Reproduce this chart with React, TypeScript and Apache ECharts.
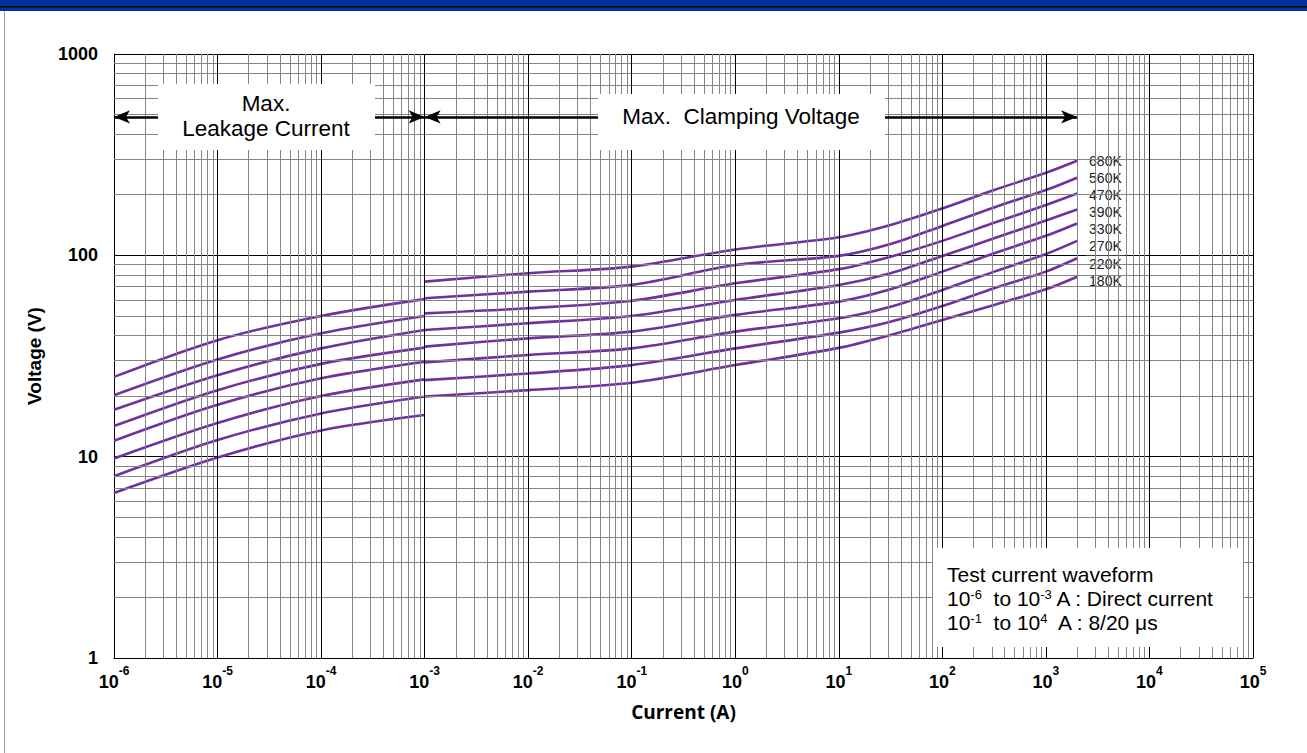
import React, { useEffect, useRef } from "react";
import * as echarts from "echarts";

// ---------- data ----------
const seriesNames = ["680K", "560K", "470K", "390K", "330K", "270K", "220K", "180K"];

// Max. leakage current region (DC), current in A, voltage in V
const leakageCurrent = [1e-6, 1e-5, 1e-4, 1e-3];
const leak680K = [24.9, 37.9, 50.0, 60.6];
const leak560K = [20.2, 30.4, 41.0, 50.0];
const leak470K = [17.1, 25.4, 34.5, 42.6];
const leak390K = [14.2, 21.4, 28.9, 34.8];
const leak330K = [12.0, 18.1, 24.5, 29.6];
const leak270K = [9.8, 14.7, 20.0, 24.2];
const leak220K = [8.0, 12.1, 16.4, 19.9];
const leak180K = [6.6, 9.9, 13.5, 16.1];
const leakageValues = [leak680K, leak560K, leak470K, leak390K, leak330K, leak270K, leak220K, leak180K];

// Max. clamping voltage region (8/20 µs)
const clampCurrent = [1e-3, 1e-2, 1e-1, 1, 10, 31.6, 100, 316, 1000, 2000];
const clamp680K = [74.0, 81.5, 87.9, 107, 123, 141.5, 171, 211, 257, 295];
const clamp560K = [61.2, 66.0, 71.3, 89.5, 99.4, 113.8, 140, 173, 211, 243];
const clamp470K = [51.5, 54.6, 59.5, 72.6, 85.4, 98.5, 118, 145, 178, 203];
const clamp390K = [42.6, 46.0, 50.0, 60.0, 71.3, 81.5, 99.2, 121.5, 149, 169];
const clamp330K = [35.2, 38.7, 41.8, 50.6, 58.9, 67.8, 83.0, 102.4, 125, 144];
const clamp270K = [29.4, 32.0, 34.5, 41.8, 48.7, 55.6, 67.3, 83.0, 101.5, 118];
const clamp220K = [24.0, 25.9, 28.5, 34.5, 41.3, 46.8, 56.0, 68.6, 83.0, 96.7];
const clamp180K = [19.9, 21.4, 23.3, 28.5, 34.7, 40.2, 47.7, 56.7, 67.8, 78.3];
const clampValues = [clamp680K, clamp560K, clamp470K, clamp390K, clamp330K, clamp270K, clamp220K, clamp180K];

// axes
const xMin = 1e-6;
const xMax = 1e5;
const yMin = 1;
const yMax = 1000;
const xTickValues = [1e-6, 1e-5, 1e-4, 1e-3, 1e-2, 1e-1, 1, 10, 100, 1000, 10000, 100000];
const xDecades = [1e-6, 1e-5, 1e-4, 1e-3, 1e-2, 1e-1, 1, 10, 100, 1000, 10000];
const yDecades = [1, 10, 100];
const minorMultipliers = [2, 3, 4, 5, 6, 7, 8, 9];

// annotation arrows (current range boundaries and arrow level)
const leakageRange = [1e-6, 1e-3];
const clampRange = [1e-3, 2000];
const arrowVoltage = 487;

// ---------- styles ----------
const curveColor = "#7030a0";
const endLabelShift = [0, 0, 2, 3, 6, 5, 6, 4];
const FONT = "'Liberation Sans', Arial, sans-serif";

export default function App() {
  const ref = useRef<HTMLDivElement>(null);

  useEffect(() => {
    if (!ref.current) return;
    const chart = echarts.init(ref.current, null, { renderer: "svg" });

    const minorX: number[] = [];
    xDecades.forEach((d) => minorMultipliers.forEach((m) => minorX.push(m * d)));
    const minorY: number[] = [];
    yDecades.forEach((d) => minorMultipliers.forEach((m) => minorY.push(m * d)));

    const sup = (exp: number) => `{b|10}{s|${exp}}`;

    const series: any[] = [];
    // minor grid lines
    series.push({
      type: "line",
      name: "minorGrid",
      data: [],
      silent: true,
      z: 1,
      markLine: {
        silent: true,
        animation: false,
        precision: 12,
        symbol: ["none", "none"],
        label: { show: false },
        emphasis: { disabled: true },
        lineStyle: { color: "#858585", width: 1, type: "solid" },
        data: [
          ...minorX.map((v) => [{ coord: [v, yMin] }, { coord: [v, yMax] }]),
          ...minorY.map((v) => [{ coord: [xMin, v] }, { coord: [xMax, v] }]),
        ],
      },
    });
    // major vertical (decade) grid lines
    series.push({
      type: "line",
      name: "majorGridX",
      data: [],
      silent: true,
      z: 2,
      markLine: {
        silent: true,
        animation: false,
        precision: 12,
        symbol: ["none", "none"],
        label: { show: false },
        emphasis: { disabled: true },
        lineStyle: { color: "#000", width: 1, type: "solid" },
        data: xTickValues.slice(1).map((v) => [{ coord: [v, yMin] }, { coord: [v, yMax] }]),
      },
    });
    // arrows
    series.push({
      type: "line",
      name: "arrows",
      data: [],
      silent: true,
      z: 4,
      markLine: {
        silent: true,
        animation: false,
        precision: 12,
        symbol: ["arrow", "arrow"],
        symbolSize: [10, 16],
        label: { show: false },
        emphasis: { disabled: true },
        lineStyle: { color: "#000", width: 2.5, type: "solid" },
        data: [
          [
            { coord: [leakageRange[0], arrowVoltage] },
            { coord: [leakageRange[1], arrowVoltage] },
          ],
          [
            { coord: [clampRange[0], arrowVoltage] },
            { coord: [clampRange[1], arrowVoltage] },
          ],
        ],
      },
    });

    seriesNames.forEach((name, i) => {
      series.push({
        type: "line",
        name: name + " leakage",
        data: leakageCurrent.map((c, j) => [c, leakageValues[i][j]]),
        showSymbol: false,
        symbol: "none",
        smooth: 0.3,
        z: 3,
        lineStyle: { color: curveColor, width: 2.6 },
      });
      series.push({
        type: "line",
        name,
        data: clampCurrent.map((c, j) => [c, clampValues[i][j]]),
        showSymbol: false,
        symbol: "none",
        smooth: 0.3,
        z: 3,
        lineStyle: { color: curveColor, width: 2.6 },
        endLabel: {
          show: true,
          formatter: "{a}",
          distance: 9,
          offset: [0, endLabelShift[i]],
          color: "#222",
          fontSize: 14,
          fontFamily: FONT,
          backgroundColor: "#fff",
          padding: [1, 3],
          lineHeight: 15,
        },
      });
    });

    const option: any = {
      animation: false,
      backgroundColor: "#fff",
      grid: { left: 114, top: 54, right: 54, bottom: 95, containLabel: false },
      xAxis: {
        type: "log",
        logBase: 10,
        min: xMin,
        max: xMax,
        name: "Current (A)",
        nameLocation: "middle",
        nameGap: 44,
        nameTextStyle: { fontSize: 19, fontWeight: "bold", fontFamily: "'Open Sans', sans-serif", color: "#000" },
        axisLine: { show: true, lineStyle: { color: "#000", width: 1 } },
        axisTick: { show: false, customValues: xTickValues },
        splitLine: { show: false },
        axisLabel: {
          margin: 7,
          interval: 0,
          hideOverlap: false,
          customValues: xTickValues,
          formatter: (v: number) => sup(Math.round(Math.log10(v))),
          rich: {
            b: { fontSize: 18, fontWeight: "bold", fontFamily: FONT, color: "#000", padding: [8, 0, 0, 0] },
            s: { fontSize: 12, fontWeight: "bold", fontFamily: FONT, color: "#000", verticalAlign: "top" },
          },
        },
      },
      yAxis: {
        type: "log",
        logBase: 10,
        min: yMin,
        max: yMax,
        splitNumber: 3,
        name: "Voltage (V)",
        nameLocation: "middle",
        nameGap: 70,
        nameRotate: 90,
        nameTextStyle: { fontSize: 19, fontWeight: "bold", fontFamily: FONT, color: "#000" },
        axisLine: { show: true, lineStyle: { color: "#000", width: 1 } },
        axisTick: { show: false },
        splitLine: { show: true, interval: 0, lineStyle: { color: "#000", width: 1 } },
        axisLabel: {
          margin: 16,
          interval: 0,
          fontSize: 18,
          fontWeight: "bold",
          fontFamily: FONT,
          color: "#000",
          formatter: (v: number) => String(Math.round(v)),
        },
      },
      series,
      graphic: [
        // header band
        { type: "rect", z: 100, shape: { x: 0, y: 0, width: 1307, height: 11 }, style: { fill: "#003399" } },
        { type: "rect", z: 101, shape: { x: 0, y: 6, width: 1307, height: 1.5 }, style: { fill: "#000" } },
        { type: "rect", z: 100, shape: { x: 4, y: 11, width: 1, height: 742 }, style: { fill: "#a0a0a0" } },
        // leakage box
        { type: "rect", z: 100, shape: { x: 158, y: 84, width: 217, height: 66 }, style: { fill: "#fff" } },
        {
          type: "text",
          z: 101,
          x: 266,
          y: 116,
          style: {
            text: "Max.\nLeakage Current",
            fontSize: 22.5,
            fontFamily: FONT,
            fill: "#000",
            align: "center",
            verticalAlign: "middle",
            lineHeight: 25,
          },
        },
        // clamping box
        { type: "rect", z: 100, shape: { x: 598, y: 94, width: 287, height: 56 }, style: { fill: "#fff" } },
        {
          type: "text",
          z: 101,
          x: 741,
          y: 116,
          style: {
            text: "Max.  Clamping Voltage",
            fontSize: 22.5,
            fontFamily: FONT,
            fill: "#000",
            align: "center",
            verticalAlign: "middle",
          },
        },
        // test waveform box
        { type: "rect", z: 100, shape: { x: 933, y: 548, width: 310, height: 99 }, style: { fill: "#fff" } },
        {
          type: "text",
          z: 101,
          x: 947,
          y: 574,
          style: {
            text: "Test current waveform",
            fontSize: 21,
            fontFamily: FONT,
            fill: "#000",
            align: "left",
            verticalAlign: "middle",
          },
        },
        {
          type: "text",
          z: 101,
          x: 947,
          y: 598,
          style: {
            text: "{n|10}{s|-6}{n|  to 10}{s|-3}{n| A : Direct current}",
            align: "left",
            verticalAlign: "middle",
            rich: {
              n: { fontSize: 21, fontFamily: FONT, fill: "#000", color: "#000" },
              s: { fontSize: 13, fontFamily: FONT, fill: "#000", color: "#000", verticalAlign: "top" },
            },
          },
        },
        {
          type: "text",
          z: 101,
          x: 947,
          y: 622,
          style: {
            text: "{n|10}{s|-1}{n|  to 10}{s|4}{n|  A : 8/20 μs}",
            align: "left",
            verticalAlign: "middle",
            rich: {
              n: { fontSize: 21, fontFamily: FONT, fill: "#000", color: "#000" },
              s: { fontSize: 13, fontFamily: FONT, fill: "#000", color: "#000", verticalAlign: "top" },
            },
          },
        },
      ],
    };

    chart.setOption(option);
    return () => chart.dispose();
  }, []);

  return (
    <div
      ref={ref}
      style={{ position: "absolute", left: 0, top: 0, width: 1307, height: 753, background: "#fff" }}
    />
  );
}
